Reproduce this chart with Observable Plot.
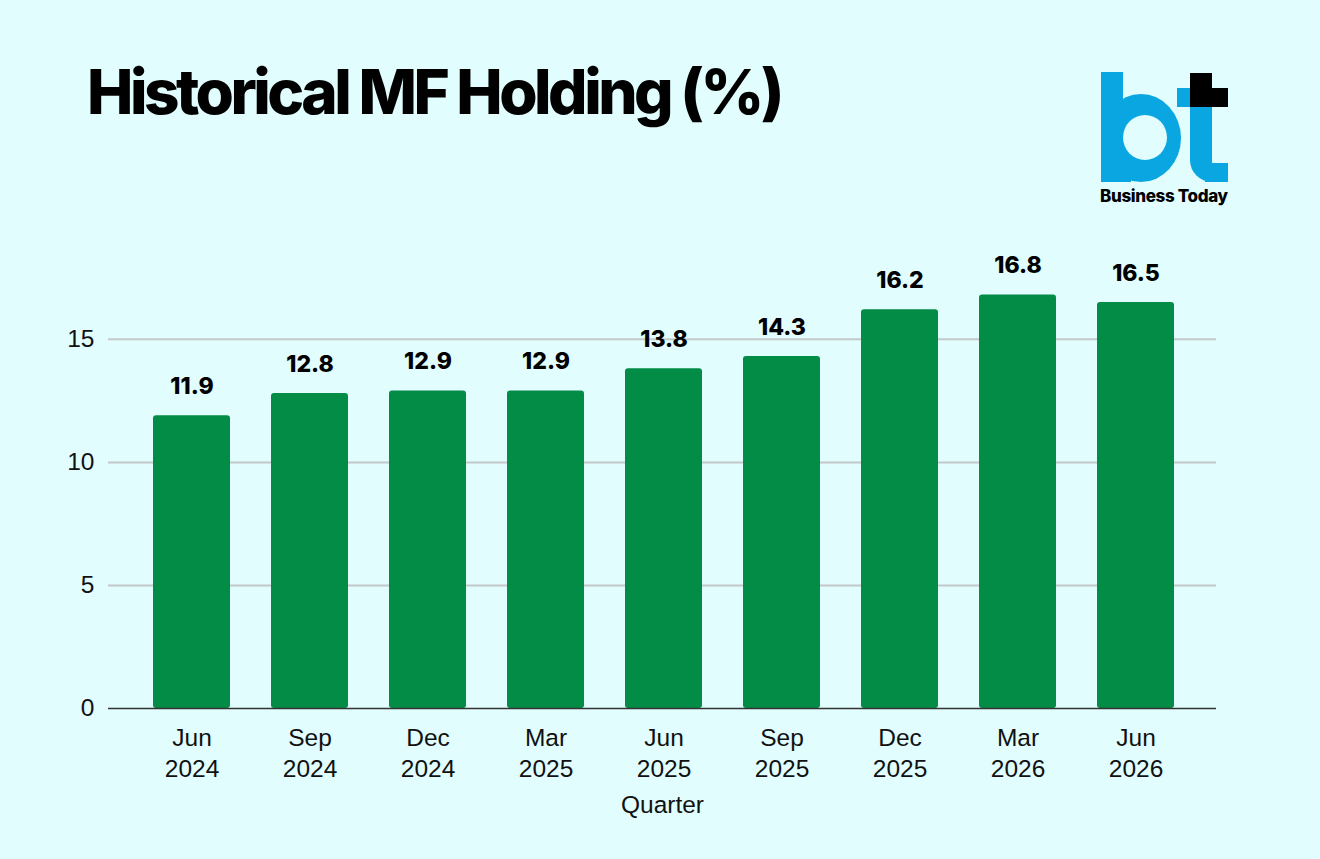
<!DOCTYPE html>
<html>
<head>
<meta charset="utf-8">
<script src="https://cdn.jsdelivr.net/npm/d3@7"></script>
<script src="https://cdn.jsdelivr.net/npm/@observablehq/plot@0.6"></script>
<style>
  html, body { margin: 0; padding: 0; background: #e1fdfe; }
  #wrap { position: relative; width: 1320px; height: 859px; background: #e1fdfe; overflow: hidden; }
  #title { position: absolute; left: 87px; top: 61px; font-family: Inter, "Liberation Sans", Arial, sans-serif; font-weight: 800; font-size: 62px; letter-spacing: -3.5px; color: #000; white-space: nowrap; line-height: 1; }
  #chart { position: absolute; left: 0; top: 220px; }
  .logo div { position: absolute; }
  #brand { position: absolute; left: 1100px; top: 188px; font-family: Inter, "Liberation Sans", Arial, sans-serif; font-weight: 800; font-size: 17px; letter-spacing: -0.35px; color: #000; white-space: nowrap; line-height: 1; }
</style>
</head>
<body>
<div id="wrap">
  <div id="title">Historical MF Holding (%)</div>
  <div class="logo">
    <div style="left:1101px;top:72px;width:22px;height:110px;background:#0aa6e2;"></div>
    <div style="left:1101px;top:94px;width:80px;height:88px;border-radius:50%;background:#0aa6e2;"></div>
    <div style="left:1101px;top:140px;width:30px;height:42px;background:#0aa6e2;"></div>
    <div style="left:1123px;top:115px;width:44px;height:45px;border-radius:50%;background:#e1fdfe;"></div>
    <div style="left:1177px;top:88px;width:13px;height:19px;background:#0aa6e2;"></div>
    <div style="left:1190px;top:73px;width:22px;height:34px;background:#000;"></div>
    <div style="left:1190px;top:88px;width:38px;height:19px;background:#000;"></div>
    <div style="left:1190px;top:107px;width:22px;height:75px;background:#0aa6e2;border-bottom-left-radius:22px;"></div>
    <div style="left:1205px;top:163px;width:23px;height:19px;background:#0aa6e2;"></div>
  </div>
  <div id="brand">Business Today</div>
  <div id="chart"></div>
</div>
<script>
const quarters = ["Jun\n2024", "Sep\n2024", "Dec\n2024", "Mar\n2025", "Jun\n2025", "Sep\n2025", "Dec\n2025", "Mar\n2026", "Jun\n2026"];
const holding = [11.9, 12.8, 12.9, 12.9, 13.8, 14.3, 16.2, 16.8, 16.5];
const yTicks = [0, 5, 10, 15];

const data = quarters.map((q, i) => ({quarter: q, value: holding[i]}));

const plot = Plot.plot({
  width: 1320,
  height: 639,
  marginLeft: 108,
  marginRight: 104,
  marginTop: 45,
  marginBottom: 151,
  style: {background: "transparent", fontFamily: "'Liberation Sans', Arial, sans-serif", color: "#000"},
  x: {domain: quarters, paddingInner: 0.35, paddingOuter: 0.175, insetLeft: 22, insetRight: 20, label: null},
  y: {domain: [0, 18], label: null},
  marks: [
    Plot.gridY(yTicks.filter(d => d > 0), {stroke: "#c4c8c8", strokeOpacity: 1, strokeWidth: 2}),
    Plot.axisY(yTicks, {tickSize: 0, tickPadding: 14, fontSize: 24.5, label: null, fill: "#111"}),
    Plot.barY(data, {x: "quarter", y: "value", fill: "#038c46", rx: 3}),
    Plot.ruleY([0], {stroke: "#333", strokeWidth: 1.6}),
    Plot.text(data, {x: "quarter", y: "value", text: d => d.value.toFixed(1), dy: -29, fontSize: 23, fontWeight: 800, fill: "#000", fontFamily: "Inter, 'Liberation Sans', sans-serif", letterSpacing: -1}),
    Plot.axisX({tickSize: 0, tickPadding: 15, fontSize: 24.5, lineHeight: 1.28, fill: "#111", label: "Quarter", labelAnchor: "center", labelOffset: 104, labelArrow: "none"})
  ]
});
document.getElementById("chart").appendChild(plot);
</script>
</body>
</html>
